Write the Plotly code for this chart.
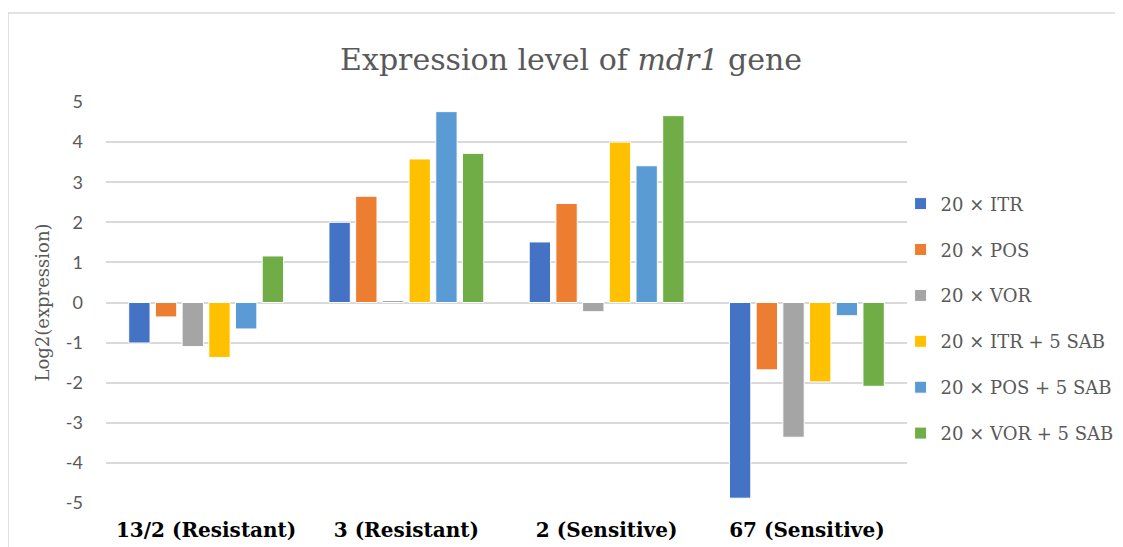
import plotly.graph_objects as go

categories = ["13/2 (Resistant)", "3 (Resistant)", "2 (Sensitive)", "67 (Sensitive)"]
series_names = ["20 × ITR", "20 × POS", "20 × VOR", "20 × ITR + 5 SAB", "20 × POS + 5 SAB", "20 × VOR + 5 SAB"]
itr = [-1.01, 2.00, 1.51, -4.88]
pos = [-0.36, 2.65, 2.47, -1.68]
vor = [-1.10, 0.05, -0.23, -3.36]
itr_sab = [-1.37, 3.58, 4.00, -1.98]
pos_sab = [-0.66, 4.76, 3.41, -0.33]
vor_sab = [1.16, 3.72, 4.66, -2.09]
y_ticks = [-5, -4, -3, -2, -1, 0, 1, 2, 3, 4, 5]

colors = ["#4472C4", "#ED7D31", "#A5A5A5", "#FFC000", "#5B9BD5", "#70AD47"]
series_values = [itr, pos, vor, itr_sab, pos_sab, vor_sab]

fig = go.Figure()
for i, (name, vals) in enumerate(zip(series_names, series_values)):
    fig.add_trace(go.Bar(
        x=categories, y=vals, name=name,
        marker=dict(color=colors[i], line=dict(color="white", width=1)),
        legendgroup=f"g{i}",
    ))

serif = "DejaVu Serif, Liberation Serif, serif"
fig.update_layout(
    width=1115, height=539,
    margin=dict(l=98, r=216, t=94, b=44, autoexpand=False),
    paper_bgcolor="white", plot_bgcolor="white",
    barmode="group", bargap=0.2, bargroupgap=0.2,
    title=dict(text="Expression level of <i>mdr1</i> gene", x=0.505, xanchor="center",
               y=0.904, yanchor="middle",
               font=dict(family=serif, size=30, color="#595959")),
    legend=dict(x=0.992, xanchor="left", y=0.792, yanchor="top",
                font=dict(family=serif, size=18, color="#595959"),
                tracegroupgap=19.5, itemwidth=30, bgcolor="rgba(0,0,0,0)"),
    showlegend=True,
    shapes=[dict(type="rect", xref="paper", yref="paper",
                 x0=-0.1223, x1=1.6, y0=-0.5, y1=1.222,
                 line=dict(color="#D9D9D9", width=1.5), layer="below")],
)
fig.update_xaxes(
    showgrid=False, showline=False, zeroline=False, ticks="", automargin=False,
    tickfont=dict(family=serif, size=20, color="black", weight="bold"),
    ticklabelstandoff=13,
)
fig.update_yaxes(
    range=[-5, 5], tickvals=y_ticks, ticktext=[str(v) for v in y_ticks], automargin=False,
    showgrid=True, gridcolor="#D9D9D9", gridwidth=1.5,
    zeroline=True, zerolinecolor="#D9D9D9", zerolinewidth=1.5, showline=False,
    tickfont=dict(family="Lato, Open Sans, sans-serif", size=18, color="#595959"),
    ticklabelstandoff=22,
    title=dict(text="Log2(expression)", font=dict(family=serif, size=18, color="#595959"), standoff=11),
)
fig.write_html("out.html")
